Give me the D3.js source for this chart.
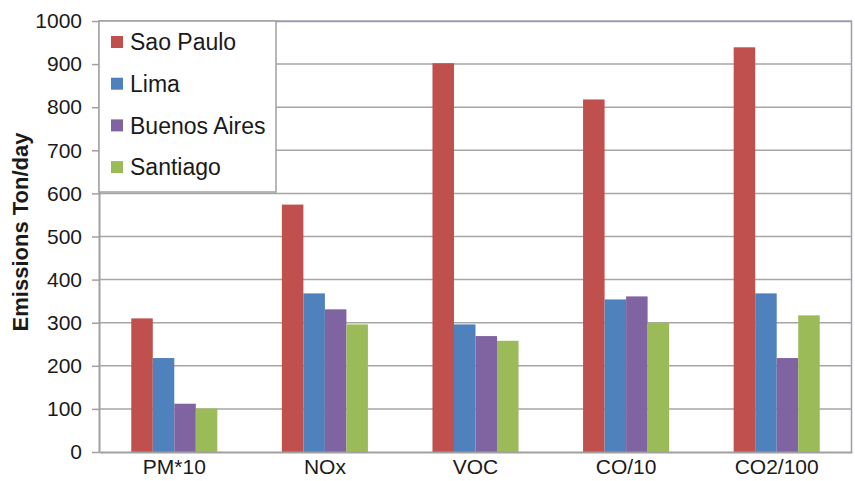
<!DOCTYPE html>
<html>
<head>
<meta charset="utf-8">
<script src="https://cdn.jsdelivr.net/npm/d3@7"></script>
<style>
  body { margin: 0; background: #fff; }
  text { font-family: Arial, "Liberation Sans", sans-serif; fill: #1a1a1a; }
</style>
</head>
<body>
<script>
// data
var pollutants = ['PM*10', 'NOx', 'VOC', 'CO/10', 'CO2/100'];
var cities = ['Sao Paulo', 'Lima', 'Buenos Aires', 'Santiago'];
var saoPaulo = [310, 574, 902, 818, 939];
var lima = [218, 368, 296, 354, 368];
var buenosAires = [112, 331, 269, 361, 218];
var santiago = [101, 296, 258, 300, 317];
var yTicks = [0, 100, 200, 300, 400, 500, 600, 700, 800, 900, 1000];
var colors = ['#c0504d', '#4f81bd', '#8064a2', '#9bbb59'];

var series = [saoPaulo, lima, buenosAires, santiago];

var margin = { top: 21, right: 3, bottom: 29, left: 99 },
  width = 855 - margin.left - margin.right,
  height = 481 - margin.top - margin.bottom;

var svg = d3.select('body')
  .append('svg')
  .attr('width', 855)
  .attr('height', 481)
  .append('g')
  .attr('transform', 'translate(' + margin.left + ',' + margin.top + ')');

var x0 = d3.scaleBand().domain(pollutants).range([0, width]).paddingInner(3 / 7).paddingOuter(1.5 / 7);
var x1 = d3.scaleBand().domain(cities).range([0, x0.bandwidth()]);
var y = d3.scaleLinear().domain([0, 1000]).range([height, 0]);

// gridlines
svg.append('g')
  .selectAll('line')
  .data(yTicks.slice(1))
  .enter()
  .append('line')
  .attr('x1', 0)
  .attr('x2', width)
  .attr('y1', function (d) { return y(d); })
  .attr('y2', function (d) { return y(d); })
  .attr('stroke', '#a6a6a6')
  .attr('stroke-width', 1.5);

// plot border top/right
svg.append('path')
  .attr('d', 'M0,0.5H' + (width - 0.5) + 'V' + height)
  .attr('fill', 'none')
  .attr('stroke', '#9a9ac8')
  .attr('stroke-width', 1.5);

// bars
var groups = svg.selectAll('.grp')
  .data(pollutants)
  .enter()
  .append('g')
  .attr('class', 'grp')
  .attr('transform', function (d) { return 'translate(' + x0(d) + ',0)'; });

groups.selectAll('rect')
  .data(function (d, i) {
    return cities.map(function (c, j) { return { city: c, value: series[j][i], k: j }; });
  })
  .enter()
  .append('rect')
  .attr('x', function (d) { return x1(d.city); })
  .attr('width', x1.bandwidth())
  .attr('y', function (d) { return y(d.value); })
  .attr('height', function (d) { return height - y(d.value); })
  .attr('fill', function (d) { return colors[d.k]; });

// y axis
var yAxis = d3.axisLeft(y).tickValues(yTicks).tickFormat(d3.format('d')).tickSize(7).tickSizeOuter(0).tickPadding(10);
var ya = svg.append('g').call(yAxis);
ya.select('.domain').attr('stroke', '#a0a0a0').attr('stroke-width', 2);
ya.selectAll('.tick line').attr('stroke', '#a0a0a0').attr('stroke-width', 1.5);
ya.selectAll('.tick text').style('font-size', '21px').attr('fill', '#1a1a2e');

// x axis
var xAxis = d3.axisBottom(x0).tickSize(0).tickSizeOuter(0).tickPadding(7);
var xa = svg.append('g').attr('transform', 'translate(0,' + height + ')').call(xAxis);
xa.select('.domain').attr('stroke', '#a0a0a0').attr('stroke-width', 2);
xa.selectAll('.tick text').style('font-size', '21px').attr('fill', '#1a1a2e');

// y title
svg.append('text')
  .attr('transform', 'rotate(-90)')
  .attr('x', -(232 - margin.top))
  .attr('y', -71)
  .attr('text-anchor', 'middle')
  .style('font-size', '22px')
  .style('font-weight', 'bold')
  .attr('fill', '#000')
  .text('Emissions Ton/day');

// legend
var legend = svg.append('g').attr('id', 'legend');
legend.append('rect')
  .attr('x', 0)
  .attr('y', 0)
  .attr('width', 177)
  .attr('height', 171)
  .attr('fill', '#fff')
  .attr('stroke', '#a0a0a0')
  .attr('stroke-width', 1.5);

var items = legend.selectAll('.legend-label')
  .data(cities)
  .enter()
  .append('g')
  .attr('class', 'legend-label')
  .attr('transform', function (d, i) { return 'translate(12,' + (21 + i * 41.7) + ')'; });

items.append('rect')
  .attr('x', 0)
  .attr('y', -6)
  .attr('width', 12)
  .attr('height', 12)
  .attr('fill', function (d, i) { return colors[i]; });

items.append('text')
  .attr('x', 19)
  .attr('dy', '0.36em')
  .style('font-size', '23px')
  .attr('fill', '#1a1a2e')
  .text(function (d) { return d; });
</script>
</body>
</html>
